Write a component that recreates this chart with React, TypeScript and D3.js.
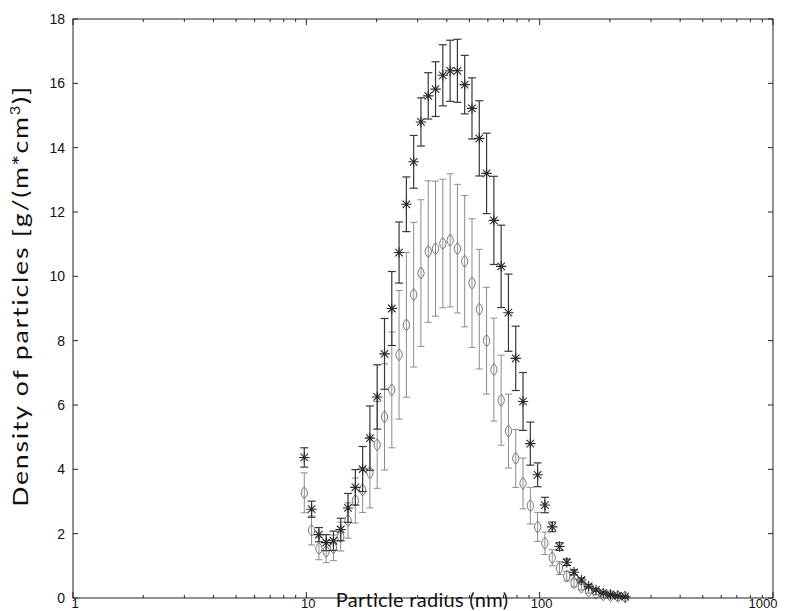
import React from "react";
import * as d3 from "d3";

const radii = [9.8, 10.53, 11.32, 12.16, 13.07, 14.04, 15.09, 16.22, 17.43, 18.73, 20.12, 21.63, 23.24, 24.97, 26.84, 28.84, 30.99, 33.3, 35.79, 38.46, 41.33, 44.41, 47.72, 51.28, 55.11, 59.22, 63.64, 68.39, 73.49, 78.97, 84.86, 91.2, 98.0, 105.3, 113.2, 121.6, 130.7, 140.4, 150.9, 162.2, 174.3, 187.3, 201.2, 216.3, 232.4];

const starValues = [4.37, 2.76, 1.97, 1.72, 1.78, 2.13, 2.8, 3.44, 4.01, 4.97, 6.25, 7.59, 9.0, 10.74, 12.24, 13.56, 14.8, 15.61, 15.82, 16.25, 16.39, 16.39, 15.96, 15.22, 14.29, 13.2, 11.74, 10.31, 8.87, 7.45, 6.11, 4.8, 3.83, 2.89, 2.21, 1.6, 1.11, 0.8, 0.56, 0.37, 0.25, 0.16, 0.11, 0.07, 0.04];
const starErrors = [0.3, 0.25, 0.22, 0.25, 0.3, 0.35, 0.45, 0.55, 0.7, 1.0, 1.0, 1.1, 1.15, 0.95, 0.85, 0.82, 0.75, 0.72, 0.85, 0.95, 0.95, 0.98, 0.91, 0.95, 1.17, 1.25, 1.37, 1.28, 1.2, 1.0, 0.9, 0.67, 0.37, 0.24, 0.15, 0.12, 0.1, 0.08, 0.06, 0.05, 0.04, 0.03, 0.03, 0.02, 0.02];

const diamondValues = [3.27, 2.1, 1.54, 1.45, 1.56, 1.91, 2.41, 3.03, 3.36, 3.9, 4.76, 5.63, 6.47, 7.56, 8.49, 9.43, 10.1, 10.77, 10.86, 11.02, 11.12, 10.86, 10.47, 9.79, 8.98, 8.0, 7.1, 6.15, 5.19, 4.34, 3.56, 2.87, 2.21, 1.7, 1.25, 0.93, 0.68, 0.47, 0.34, 0.22, 0.15, 0.1, 0.07, 0.05, 0.03];
const diamondErrors = [0.62, 0.45, 0.35, 0.35, 0.4, 0.45, 0.55, 0.7, 0.7, 1.1, 1.35, 1.65, 1.8, 2.0, 2.25, 2.25, 2.28, 2.2, 2.1, 2.0, 2.07, 2.0, 2.04, 2.0, 1.86, 1.66, 1.6, 1.4, 1.15, 0.9, 0.79, 0.57, 0.45, 0.35, 0.25, 0.2, 0.15, 0.12, 0.09, 0.07, 0.05, 0.04, 0.03, 0.03, 0.02];

const xMajorTicks = [1, 10, 100, 1000];
const yTicks = [0, 2, 4, 6, 8, 10, 12, 14, 16, 18];

const W = 791;
const H = 611;
const L = 73, R = 773, T = 19, B = 598;

export default function App() {
  const x = d3.scaleLog().domain([1, 1000]).range([L, R]);
  const y = d3.scaleLinear().domain([0, 18]).range([B, T]);

  const minorTicks: number[] = [];
  [1, 10, 100].forEach((d) => {
    for (let k = 2; k <= 9; k++) minorTicks.push(d * k);
  });

  const tickFont = "'Liberation Sans', Arial, Helvetica, sans-serif";
  const labelFont = "Lato, 'Open Sans', sans-serif";

  const starColor = "#2a2a2a";
  const starBarColor = "#383838";
  const diaColor = "#777";
  const diaBarColor = "#8c8c8c";

  const star = (r: number) =>
    `M0,${-r}L0,${r}M${-r},0L${r},0M${-r * 0.72},${-r * 0.72}L${r * 0.72},${r * 0.72}M${-r * 0.72},${r * 0.72}L${r * 0.72},${-r * 0.72}`;
  const lens = "M0,-6Q6.5,0 0,6Q-6.5,0 0,-6Z";

  return (
    <svg
      width={W}
      height={H}
      style={{ position: "absolute", left: 0, top: 0, background: "#fff" }}
    >
      <rect x={0} y={0} width={W} height={H} fill="#fff" />

      {/* diamond series error bars */}
      <g stroke={diaBarColor} strokeWidth={1} fill="none">
        {radii.map((r, i) => {
          const cx = x(r);
          const y1 = y(diamondValues[i] + diamondErrors[i]);
          const y0 = y(Math.max(0, diamondValues[i] - diamondErrors[i]));
          return (
            <g key={i}>
              <line x1={cx} x2={cx} y1={y1} y2={y0} />
              <line x1={cx - 3.5} x2={cx + 3.5} y1={y1} y2={y1} />
              <line x1={cx - 3.5} x2={cx + 3.5} y1={y0} y2={y0} />
            </g>
          );
        })}
      </g>
      <g stroke={diaColor} strokeWidth={1} fill="none">
        {radii.map((r, i) => (
          <path key={i} d={lens} transform={`translate(${x(r)},${y(diamondValues[i])})`} />
        ))}
      </g>

      {/* star series error bars */}
      <g stroke={starBarColor} strokeWidth={1.2} fill="none">
        {radii.map((r, i) => {
          const cx = x(r);
          const y1 = y(starValues[i] + starErrors[i]);
          const y0 = y(Math.max(0, starValues[i] - starErrors[i]));
          return (
            <g key={i}>
              <line x1={cx} x2={cx} y1={y1} y2={y0} />
              <line x1={cx - 4} x2={cx + 4} y1={y1} y2={y1} />
              <line x1={cx - 4} x2={cx + 4} y1={y0} y2={y0} />
            </g>
          );
        })}
      </g>
      <g stroke={starColor} strokeWidth={1.1} fill="none">
        {radii.map((r, i) => (
          <path key={i} d={star(5.2)} transform={`translate(${x(r)},${y(starValues[i])})`} />
        ))}
      </g>

      {/* frame */}
      <rect x={L} y={T} width={R - L} height={B - T} fill="none" stroke="#222" strokeWidth={1} />

      {/* ticks */}
      <g stroke="#222" strokeWidth={1}>
        {yTicks.map((t) => (
          <g key={t}>
            <line x1={L} x2={L + 5} y1={y(t)} y2={y(t)} />
            <line x1={R} x2={R - 5} y1={y(t)} y2={y(t)} />
          </g>
        ))}
        {xMajorTicks.map((t) => (
          <g key={t}>
            <line x1={x(t)} x2={x(t)} y1={B} y2={B - 6} />
            <line x1={x(t)} x2={x(t)} y1={T} y2={T + 6} />
          </g>
        ))}
        {minorTicks.map((t) => (
          <g key={t}>
            <line x1={x(t)} x2={x(t)} y1={B} y2={B - 3} />
            <line x1={x(t)} x2={x(t)} y1={T} y2={T + 3} />
          </g>
        ))}
      </g>

      {/* tick labels */}
      <g fontFamily={tickFont} fill="#111">
        {yTicks.map((t) => (
          <text key={t} x={L - 8} y={y(t)} dy="0.35em" textAnchor="end" fontSize={14}>
            {t}
          </text>
        ))}
        {xMajorTicks.map((t) => (
          <text key={t} x={t === 1000 ? x(t) - 10 : x(t) + 2} y={B + 10} textAnchor="middle" fontSize={13}>
            {t}
          </text>
        ))}
      </g>

      {/* axis labels */}
      <text
        x={422}
        y={H - 4}
        textAnchor="middle"
        fontFamily={labelFont}
        fontSize={20}
        letterSpacing={0.3}
        fill="#111"
      >
        Particle radius (nm)
      </text>
      <text
        transform={`translate(28,296) rotate(-90) scale(1.27,1)`}
        textAnchor="middle"
        fontFamily={labelFont}
        fontSize={21}
        letterSpacing={1.4}
        fill="#111"
      >
        Density of particles [g/(m*cm
        <tspan dy="-8" fontSize={13}>3</tspan>
        <tspan dy="8">)]</tspan>
      </text>
    </svg>
  );
}
